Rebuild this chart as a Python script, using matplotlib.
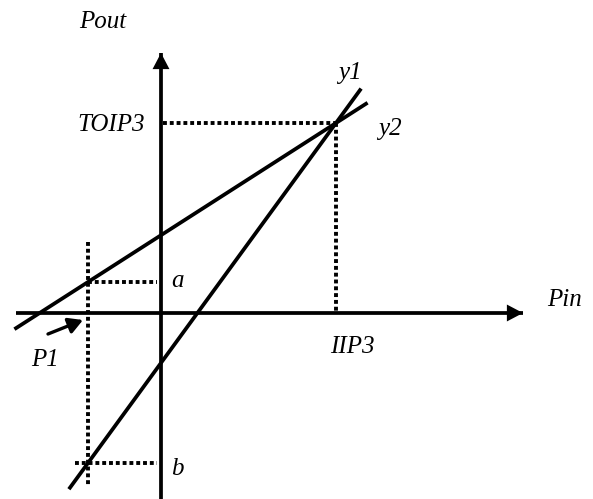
import numpy as np
from matplotlib import pyplot as plt

# key levels of the diagram (axis crossing is the origin)
p1 = -73          # input power P1
a_level = 31      # fundamental output at P1
b_level = -150    # third-order output at P1
iip3 = 175        # input intercept point
toip3 = 190       # output intercept point

# drawn extent of each line along Pin
y2_span = [-145, 205]
y1_span = [-91, 199]

# axis extents
x_axis = [-145, 362]
y_axis = [-186, 260]

# label text, anchor, horizontal alignment
labels = [
    ("Pout", (-58, 285), "center"),
    ("TOIP3", (-16, 182), "right"),
    ("y1", (189, 234), "center"),
    ("y2", (229, 178), "center"),
    ("Pin", (404, 7), "center"),
    ("IIP3", (191, -40), "center"),
    ("P1", (-116, -53), "center"),
    ("a", (17, 26), "center"),
    ("b", (16, -162), "center"),
]

plt.rcParams['font.family'] = ['Liberation Serif', 'DejaVu Serif']

fig = plt.figure(figsize=(5.93, 4.99), dpi=100)
ax = fig.add_axes([0, 0, 1, 1])
ax.set_xlim(-161, 432)
ax.set_ylim(-186, 313)
ax.axis('off')

lw = 2.7
dot = dict(color='k', lw=2.8, linestyle=(0, (1, 0.75)))


def line_through(pt1, pt2, span):
    slope = (pt2[1] - pt1[1]) / (pt2[0] - pt1[0])
    xs = np.array(span, dtype=float)
    return xs, pt1[1] + slope * (xs - pt1[0])


# axes with filled arrow heads
ax.plot(x_axis, [0, 0], color='k', lw=lw, solid_capstyle='butt')
ax.plot([0, 0], y_axis, color='k', lw=lw, solid_capstyle='butt')
head = dict(arrowstyle='-|>,head_length=0.4,head_width=0.21', color='k',
            lw=0, mutation_scale=29, shrinkA=0, shrinkB=0)
ax.annotate('', xy=(x_axis[1], 0), xytext=(x_axis[1] - 30, 0), arrowprops=head)
ax.annotate('', xy=(0, y_axis[1]), xytext=(0, y_axis[1] - 30), arrowprops=head)

# the two response lines
xs, ys = line_through((p1, a_level), (iip3, toip3), y2_span)
ax.plot(xs, ys, color='k', lw=lw)
xs, ys = line_through((p1, b_level), (iip3, toip3), y1_span)
ax.plot(xs, ys, color='k', lw=lw)

# dotted guides
ax.plot([2, iip3], [toip3, toip3], **dot)
ax.plot([iip3, iip3], [toip3, 0], **dot)
ax.plot([p1, p1], [71, -172], **dot)
ax.plot([p1, -4], [a_level, a_level], **dot)
ax.plot([-86, -4], [b_level, b_level], **dot)

# small arrow pointing at P1
ax.annotate('', xy=(p1 - 5, -7), xytext=(p1 - 40, -21),
            arrowprops=dict(arrowstyle='-|>,head_length=0.5,head_width=0.28',
                            color='k', lw=2.4, mutation_scale=17,
                            shrinkA=0, shrinkB=0))

for text, (tx, ty), ha in labels:
    ax.text(tx, ty, text, fontsize=18, style='italic', ha=ha, va='baseline')

fig.savefig('out.png', dpi=100)
